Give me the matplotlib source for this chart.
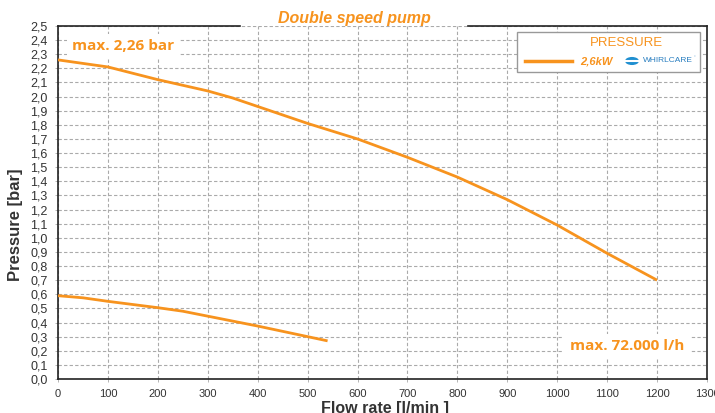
import matplotlib
matplotlib.use("Agg")
import matplotlib.pyplot as plt
from matplotlib.lines import Line2D
from matplotlib.patches import Rectangle, Circle

ORANGE = "#F7931E"

flow_hi = [0, 100, 200, 300, 350, 400, 500, 600, 700, 800, 900, 1000, 1100, 1200]
pres_hi = [2.26, 2.21, 2.12, 2.04, 1.99, 1.93, 1.81, 1.70, 1.57, 1.43, 1.27, 1.09, 0.89, 0.70]
flow_lo = [0, 50, 100, 200, 250, 300, 400, 500, 540]
pres_lo = [0.59, 0.575, 0.55, 0.505, 0.48, 0.445, 0.375, 0.30, 0.27]

x_ticks = list(range(0, 1301, 100))
y_ticks = [i / 10 for i in range(0, 26)]
y_labels = [f"{v:.1f}".replace(".", ",") for v in y_ticks]

W, H = 715, 413
fig = plt.figure(figsize=(W / 100, H / 100), dpi=100)
ax = fig.add_axes([58 / W, 1 - 379 / H, (707 - 58) / W, (379 - 26) / H])

ax.plot(flow_hi, pres_hi, color=ORANGE, lw=2, solid_capstyle="butt", zorder=3)
ax.plot(flow_lo, pres_lo, color=ORANGE, lw=2, solid_capstyle="butt", zorder=3)

ax.set_xlim(0, 1300)
ax.set_ylim(0, 2.5)
ax.set_xticks(x_ticks)
ax.set_xticklabels([str(v) for v in x_ticks], fontsize=8, family="Liberation Sans", color="#333333")
ax.set_yticks(y_ticks)
ax.set_yticklabels(y_labels, fontsize=9, family="Liberation Sans", color="#333333")
ax.tick_params(length=2.5, width=0.6, color="#aaaaaa", pad=5)
ax.grid(True, color="#aaaaaa", ls=(0, (3, 2)), lw=0.8)
ax.set_axisbelow(True)

for s in ["left", "bottom", "right"]:
    ax.spines[s].set_color("#222222")
    ax.spines[s].set_linewidth(1.2)
ax.spines["top"].set_visible(False)
ax.add_line(Line2D([0, (240 - 58) / 649], [1, 1], transform=ax.transAxes, color="#222222", lw=1.2, clip_on=False))
ax.add_line(Line2D([(468 - 58) / 649, 1], [1, 1], transform=ax.transAxes, color="#222222", lw=1.2, clip_on=False))

fig.text(385 / W, 1 - 408 / H, "Flow rate [l/min ]", ha="center", va="center", fontsize=11.5,
         fontweight="bold", family="Liberation Sans", color="#333333")
fig.text(16 / W, 1 - 225 / H, "Pressure [bar]", ha="center", va="center", rotation=90, fontsize=12,
         fontweight="bold", family="Liberation Sans", color="#333333")

fig.text(354 / W, 1 - 18 / H, "Double speed pump", ha="center", va="center", fontsize=11.5,
         fontweight="bold", style="italic", family="Liberation Sans", color=ORANGE)

ax.text(72 / W, 1 - 46 / H, "max. 2,26 bar", transform=fig.transFigure, ha="left", va="center",
        fontsize=11, fontweight="bold", family="Open Sans", color=ORANGE,
        bbox=dict(facecolor="white", edgecolor="none", pad=4), zorder=4)
ax.text(684 / W, 1 - 346 / H, "max. 72.000 l/h", transform=fig.transFigure, ha="right", va="center",
        fontsize=11, fontweight="bold", family="Open Sans", color=ORANGE,
        bbox=dict(facecolor="white", edgecolor="none", pad=4), zorder=4)

# legend box
fig.patches.append(Rectangle((517 / W, 1 - 72 / H), (700 - 517) / W, 40 / H, transform=fig.transFigure,
                             facecolor="white", edgecolor="#999999", lw=1, zorder=5))
fig.text(626 / W, 1 - 43 / H, "PRESSURE", ha="center", va="center", fontsize=9.5,
         family="Liberation Sans", color=ORANGE, zorder=6)
fig.lines.append(Line2D([525 / W, 572 / W], [1 - 61 / H, 1 - 61 / H], transform=fig.transFigure,
                        color=ORANGE, lw=2.5, zorder=6))
fig.text(580 / W, 1 - 61 / H, "2,6kW", ha="left", va="center", fontsize=8, fontweight="bold",
         style="italic", family="Liberation Sans", color=ORANGE, zorder=6)
fig.patches.append(Circle((632 / W, 1 - 61 / H), 7 / W, transform=fig.transFigure,
                          facecolor="#1f8fd0", edgecolor="none", zorder=6))
fig.lines.append(Line2D([623 / W, 641 / W], [1 - 61 / H, 1 - 61 / H], transform=fig.transFigure,
                        color="white", lw=1.5, zorder=7))
fig.text(643 / W, 1 - 61 / H, "WHIRLCARE", ha="left", va="center", fontsize=6,
         family="Liberation Sans", color="#2a7fc0", zorder=6)
fig.text(694 / W, 1 - 57 / H, "°", ha="left", va="center", fontsize=3,
         family="Liberation Sans", color="#2a7fc0", zorder=6)

fig.savefig("out.png", dpi=100)
